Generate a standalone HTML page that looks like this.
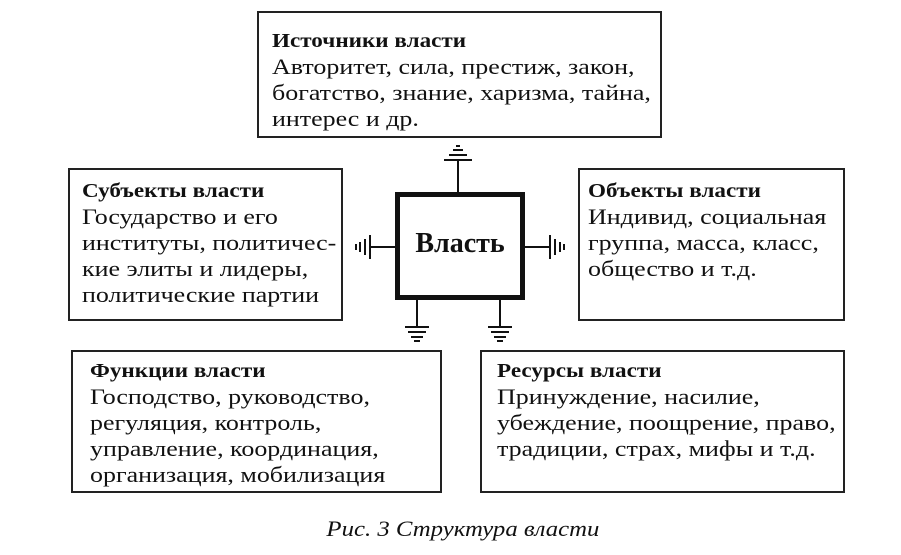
<!DOCTYPE html>
<html><head><meta charset="utf-8"><style>
body{margin:0;background:#fff;width:901px;height:555px;position:relative;overflow:hidden;font-family:"Liberation Serif","DejaVu Serif",serif;color:#111}
.b{position:absolute;border:2px solid #222;box-sizing:border-box}
.t{position:absolute;font-size:22px;line-height:26px;white-space:nowrap;transform-origin:0 0;transform:scaleX(1.18)}
.t b{font-weight:bold;display:inline-block;transform-origin:0 0;transform:scaleX(0.98);font-size:20px}
</style></head><body>
<div class="b" style="left:257px;top:11px;width:405px;height:127px"></div>
<div class="b" style="left:68px;top:168px;width:275px;height:153px"></div>
<div class="b" style="left:578px;top:168px;width:267px;height:153px"></div>
<div class="b" style="left:71px;top:350px;width:371px;height:143px"></div>
<div class="b" style="left:480px;top:350px;width:365px;height:143px"></div>
<div class="b" style="left:395px;top:192px;width:130px;height:108px;border:5px solid #111"></div>
<div style="position:absolute;left:395px;top:228px;width:130px;text-align:center;font-size:28px;font-weight:bold">Власть</div>

<div class="t" style="left:272px;top:27px"><b>Источники власти</b><br>Авторитет, сила, престиж, закон,<br>богатство, знание, харизма, тайна,<br>интерес и др.</div>
<div class="t" style="left:82px;top:177px"><b>Субъекты власти</b><br>Государство и его<br>институты, политичес-<br>кие элиты и лидеры,<br>политические партии</div>
<div class="t" style="left:588px;top:177px"><b>Объекты власти</b><br>Индивид, социальная<br>группа, масса, класс,<br>общество и т.д.</div>
<div class="t" style="left:90px;top:357px"><b>Функции власти</b><br>Господство, руководство,<br>регуляция, контроль,<br>управление, координация,<br>организация, мобилизация</div>
<div class="t" style="left:497px;top:357px"><b>Ресурсы власти</b><br>Принуждение, насилие,<br>убеждение, поощрение, право,<br>традиции, страх, мифы и т.д.</div>

<div style="position:absolute;left:14px;top:516px;width:901px;text-align:center;font-size:22px;font-style:italic;transform:scaleX(1.126);transform-origin:463px 0">Рис. 3 Структура власти</div>

<svg width="901" height="555" style="position:absolute;left:0;top:0" stroke="#111" stroke-width="2" fill="none">
<path d="M458 192V160M444 160H472M449 155H467M453 150H463M456 146H460"/>
<path d="M417 300V327M405 327H429M408 332H426M411 337H423M414 341H420"/>
<path d="M500 300V327M488 327H512M491 332H509M494 337H506M497 341H503"/>
<path d="M395 247H370M370 235V259M365 239V255M360 242V252M356 244V250"/>
<path d="M525 247H550M550 235V259M555 239V255M560 242V252M564 244V250"/>
</svg>
</body></html>
